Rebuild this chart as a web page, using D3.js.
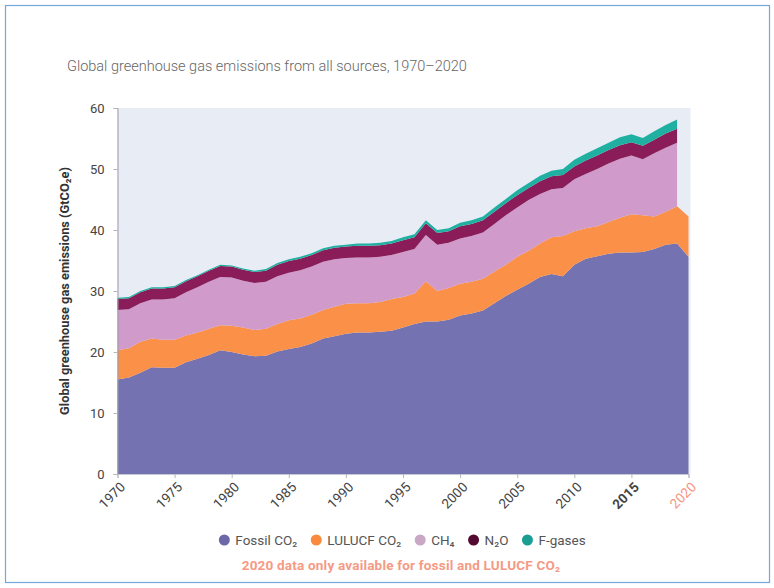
<!DOCTYPE html>
<html>
<head>
<meta charset="utf-8">
<script src="https://cdn.jsdelivr.net/npm/d3@7"></script>
<style>
  body { margin: 0; background: #fff; }
  svg { font-family: Roboto, "Noto Sans", sans-serif; }
</style>
</head>
<body>
<svg id="chart" width="774" height="588"></svg>
<script>
// values, GtCO2e per year
const years = d3.range(1970, 2021);

const fossilCO2 = [15.5, 15.8, 16.6, 17.5, 17.4, 17.4, 18.3, 18.9, 19.5, 20.3,
  20.0, 19.6, 19.3, 19.4, 20.1, 20.5, 20.8, 21.4, 22.2, 22.6,
  23.0, 23.2, 23.2, 23.3, 23.5, 24.0, 24.6, 25.0, 25.0, 25.3,
  26.0, 26.3, 26.8, 28.0, 29.2, 30.2, 31.2, 32.3, 32.8, 32.4,
  34.3, 35.3, 35.7, 36.1, 36.3, 36.3, 36.4, 36.9, 37.6, 37.8,
  35.6];

const lulucfCO2 = [4.8, 4.8, 5.1, 4.7, 4.6, 4.6, 4.4, 4.3, 4.3, 4.1,
  4.3, 4.4, 4.3, 4.4, 4.5, 4.7, 4.7, 4.7, 4.7, 4.8,
  4.9, 4.8, 4.8, 4.9, 5.2, 5.0, 5.0, 6.6, 5.0, 5.2,
  5.2, 5.2, 5.2, 5.2, 5.1, 5.4, 5.4, 5.5, 6.0, 6.6,
  5.5, 5.0, 4.9, 5.2, 5.7, 6.3, 6.0, 5.3, 5.4, 6.1,
  6.6];

// no 2020 data for the other gases
const ch4 = [6.6, 6.4, 6.3, 6.4, 6.6, 6.8, 7.1, 7.4, 7.7, 7.9,
  7.9, 7.7, 7.7, 7.7, 7.8, 7.8, 7.9, 7.9, 7.9, 7.8,
  7.5, 7.5, 7.5, 7.4, 7.2, 7.4, 7.3, 7.6, 7.6, 7.4,
  7.4, 7.5, 7.6, 7.8, 8.1, 8.1, 8.3, 8.1, 7.9, 7.9,
  8.5, 8.9, 9.4, 9.6, 9.7, 9.6, 9.2, 10.4, 10.5, 10.4];

const n2o = [1.8, 1.8, 1.8, 1.8, 1.8, 1.8, 1.8, 1.8, 1.8, 1.8,
  1.8, 1.8, 1.8, 1.8, 1.9, 1.9, 1.9, 1.9, 1.9, 1.9,
  1.9, 1.9, 1.9, 1.9, 1.9, 1.9, 1.9, 1.9, 1.9, 1.9,
  2.0, 2.0, 2.0, 2.0, 2.0, 2.0, 2.0, 2.1, 2.1, 2.1,
  2.1, 2.2, 2.2, 2.2, 2.2, 2.2, 2.2, 2.2, 2.3, 2.3];

const fGases = [0.2, 0.2, 0.2, 0.2, 0.2, 0.2, 0.2, 0.2, 0.2, 0.2,
  0.2, 0.2, 0.2, 0.3, 0.3, 0.3, 0.3, 0.3, 0.3, 0.3,
  0.3, 0.4, 0.4, 0.4, 0.4, 0.5, 0.5, 0.5, 0.5, 0.5,
  0.6, 0.6, 0.6, 0.7, 0.7, 0.8, 0.8, 0.9, 0.9, 1.0,
  1.1, 1.1, 1.2, 1.2, 1.3, 1.3, 1.3, 1.4, 1.4, 1.5];

const seriesKeys = ['fossil', 'lulucf', 'ch4', 'n2o', 'fgases'];
const seriesLabels = ['Fossil CO₂', 'LULUCF CO₂', 'CH₄', 'N₂O', 'F-gases'];
const yTicks = [0, 10, 20, 30, 40, 50, 60];
const xTicks = [1970, 1975, 1980, 1985, 1990, 1995, 2000, 2005, 2010, 2015, 2020];

const fillColors = {
  fossil: '#7572b1', lulucf: '#fb9049', ch4: '#d09acb', n2o: '#8a1d59', fgases: '#1fb0a1'
};
const legendColors = {
  fossil: '#6d69a8', lulucf: '#f98a3d', ch4: '#c9a8c6', n2o: '#520a30', fgases: '#1a9e91'
};

const svg = d3.select('#chart');
const x = d3.scaleLinear().domain([1970, 2020]).range([117.5, 688.5]);
const y = d3.scaleLinear().domain([0, 60]).range([474, 108]);

// frame round the whole figure
svg.append('rect')
  .attr('x', 5.5).attr('y', 5.5)
  .attr('width', 764).attr('height', 577)
  .attr('fill', 'none')
  .attr('stroke', '#74a7da')
  .attr('stroke-width', 1.2);

svg.append('text')
  .attr('x', 67).attr('y', 71)
  .attr('font-size', 14.5)
  .attr('font-weight', 300)
  .attr('fill', '#666')
  .text('Global greenhouse gas emissions from all sources, 1970–2020');

// plot background
svg.append('rect')
  .attr('x', x(1970)).attr('y', y(60))
  .attr('width', x(2020) - x(1970) + 2)
  .attr('height', y(0) - y(60))
  .attr('fill', '#e8edf5');

var rows = years.map((yr, i) => ({
  year: yr,
  fossil: fossilCO2[i],
  lulucf: lulucfCO2[i],
  ch4: i < ch4.length ? ch4[i] : null,
  n2o: i < n2o.length ? n2o[i] : null,
  fgases: i < fGases.length ? fGases[i] : null
}));

var stack = d3.stack()
  .keys(seriesKeys)
  .value((d, k) => d[k] == null ? 0 : d[k]);

var layers = stack(rows);

svg.append('g').attr('class', 'layers')
  .selectAll('path')
  .data(layers)
  .enter().append('path')
  .attr('fill', d => fillColors[d.key])
  .attr('d', d => d3.area()
    .defined(p => p.data[d.key] != null)
    .x(p => x(p.data.year))
    .y0(p => y(p[0]))
    .y1(p => y(p[1]))(d));

// axes
var yAxis = svg.append('g')
  .attr('transform', `translate(${x(1970)},0)`)
  .call(d3.axisLeft(y).tickValues(yTicks).tickSize(4).tickPadding(9));

yAxis.select('.domain').attr('stroke', '#9a9aa8');
yAxis.selectAll('.tick line').attr('stroke', '#b5b5c0');
yAxis.selectAll('.tick text')
  .attr('font-size', 13)
  .attr('fill', '#444')
  .attr('font-family', 'Roboto, sans-serif');

var xAxis = svg.append('g')
  .attr('transform', `translate(0,${y(0)})`)
  .call(d3.axisBottom(x).tickValues(xTicks).tickFormat(d3.format('d')).tickSize(4));

xAxis.select('.domain').attr('stroke', '#c8c8d4');
xAxis.selectAll('.tick line').attr('stroke', '#b5b5c0');
xAxis.selectAll('.tick text')
  .attr('font-size', 13.5)
  .attr('font-family', 'Roboto, sans-serif')
  .attr('fill', d => d === 2020 ? '#f49680' : '#444')
  .attr('font-weight', d => d === 2015 ? 'bold' : 'normal')
  .attr('text-anchor', 'end')
  .attr('dy', null)
  .attr('y', 0)
  .attr('transform', 'translate(8,14) rotate(-45)');

svg.append('text')
  .attr('transform', `translate(69,${y(30)}) rotate(-90)`)
  .attr('text-anchor', 'middle')
  .attr('font-size', 12.8)
  .attr('font-weight', 'bold')
  .attr('fill', '#333')
  .text('Global greenhouse gas emissions (GtCO₂e)');

// legend, laid out from the text widths and centred under the plot
var legend = svg.append('g').attr('class', 'legend');
var items = legend.selectAll('g')
  .data(seriesKeys)
  .enter().append('g');

items.append('circle')
  .attr('r', 5.5)
  .attr('cy', 0)
  .attr('fill', d => legendColors[d]);

items.append('text')
  .attr('x', 11)
  .attr('dy', '0.35em')
  .attr('font-size', 13.5)
  .attr('fill', '#555')
  .text((d, i) => seriesLabels[i]);

var offset = 0;
var gap = 19;
items.each(function() {
  var w = 11 + d3.select(this).select('text').node().getComputedTextLength();
  d3.select(this).attr('data-x', offset);
  offset += w + gap;
});
var totalWidth = offset - gap;
var startX = 400 - totalWidth / 2 + 5;
items.attr('transform', function() {
  return `translate(${startX + +d3.select(this).attr('data-x')},540)`;
});

svg.append('text')
  .attr('x', 401).attr('y', 570)
  .attr('text-anchor', 'middle')
  .attr('font-size', 13.5)
  .attr('font-weight', 'bold')
  .attr('letter-spacing', 0.2)
  .attr('fill', '#f59a84')
  .text('2020 data only available for fossil and LULUCF CO₂');
</script>
</body>
</html>
